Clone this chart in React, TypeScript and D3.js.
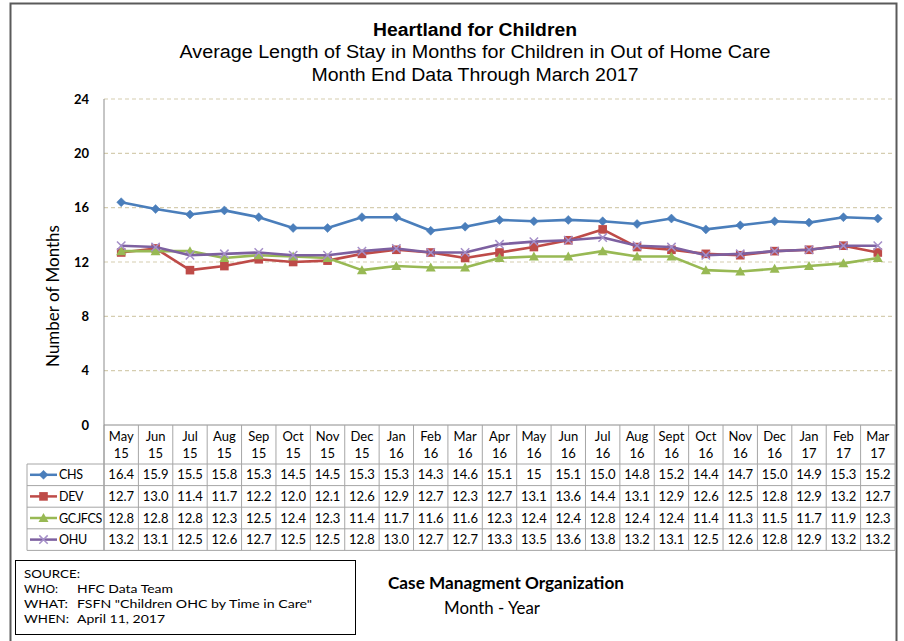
import React from "react";
import * as d3 from "d3";

const months = ["May", "Jun", "Jul", "Aug", "Sep", "Oct", "Nov", "Dec", "Jan", "Feb", "Mar", "Apr", "May", "Jun", "Jul", "Aug", "Sept", "Oct", "Nov", "Dec", "Jan", "Feb", "Mar"];
const years = ["15", "15", "15", "15", "15", "15", "15", "15", "16", "16", "16", "16", "16", "16", "16", "16", "16", "16", "16", "16", "17", "17", "17"];

const chs = ["16.4", "15.9", "15.5", "15.8", "15.3", "14.5", "14.5", "15.3", "15.3", "14.3", "14.6", "15.1", "15", "15.1", "15.0", "14.8", "15.2", "14.4", "14.7", "15.0", "14.9", "15.3", "15.2"];
const dev = ["12.7", "13.0", "11.4", "11.7", "12.2", "12.0", "12.1", "12.6", "12.9", "12.7", "12.3", "12.7", "13.1", "13.6", "14.4", "13.1", "12.9", "12.6", "12.5", "12.8", "12.9", "13.2", "12.7"];
const gcjfcs = ["12.8", "12.8", "12.8", "12.3", "12.5", "12.4", "12.3", "11.4", "11.7", "11.6", "11.6", "12.3", "12.4", "12.4", "12.8", "12.4", "12.4", "11.4", "11.3", "11.5", "11.7", "11.9", "12.3"];
const ohu = ["13.2", "13.1", "12.5", "12.6", "12.7", "12.5", "12.5", "12.8", "13.0", "12.7", "12.7", "13.3", "13.5", "13.6", "13.8", "13.2", "13.1", "12.5", "12.6", "12.8", "12.9", "13.2", "13.2"];

const seriesNames = ["CHS", "DEV", "GCJFCS", "OHU"];
const seriesValues = [chs, dev, gcjfcs, ohu];
const seriesColors = ["#4A7EBB", "#BE4B48", "#98B954", "#7D60A0"];
const seriesMarkers = ["diamond", "square", "triangle", "x"];
const yTicks = [0, 4, 8, 12, 16, 20, 24];

const sourceLabels = ["SOURCE:", "WHO:", "WHAT:", "WHEN:"];
const sourceValues = ["", "HFC Data Team", "FSFN \"Children OHC by Time in Care\"", "April 11, 2017"];

const W = 904;
const H = 641;
const plotLeft = 104;
const plotRight = 895;
const plotTop = 99;
const plotBottom = 425;
const rowH = 21.6;
const headerBottom = 464;
const legendLeft = 27;

const tableFont = "Lato, 'Open Sans', sans-serif";
const narrowFont = "'Liberation Sans Narrow', 'Arial Narrow', 'Liberation Sans', Arial, sans-serif";

function Marker({ type, x, y, color }: { type: string; x: number; y: number; color: string }) {
  if (type === "diamond") {
    const s = 4.5;
    return <path d={`M${x},${y - s}L${x + s},${y}L${x},${y + s}L${x - s},${y}Z`} fill={color} stroke={color} strokeWidth={0.5} />;
  }
  if (type === "square") {
    const s = 4.3;
    return <rect x={x - s} y={y - s} width={2 * s} height={2 * s} fill={color} />;
  }
  if (type === "triangle") {
    const s = 5;
    return <path d={`M${x},${y - s}L${x + s},${y + s * 0.8}L${x - s},${y + s * 0.8}Z`} fill={color} />;
  }
  const s = 4.2;
  return (
    <path d={`M${x - s},${y - s}L${x + s},${y + s}M${x - s},${y + s}L${x + s},${y - s}`} stroke="#A58FC8" strokeWidth={1.5} fill="none" />
  );
}

export default function App() {
  const x = d3.scaleBand<number>().domain(d3.range(months.length)).range([plotLeft, plotRight]);
  const y = d3.scaleLinear().domain([0, 24]).range([plotBottom, plotTop]);
  const line = d3
    .line<string>()
    .x((_, i) => (x(i) as number) + x.bandwidth() / 2)
    .y((d) => y(Number(d)));

  const bw = x.bandwidth();
  const tableBottom = headerBottom + rowH * seriesNames.length;
  const labelLens = [56, 34, 44, 45];
  const valueLens = [0, 96, 235, 88];

  return (
    <svg width={W} height={H} style={{ position: "absolute", left: 0, top: 0, background: "#fff" }}>
      <rect x={0} y={0} width={W} height={H} fill="#fff" />
      {/* outer frame */}
      <rect x={10.5} y={3.5} width={886} height={700} fill="none" stroke="#5a5a5a" strokeWidth={2} />

      {/* titles */}
      <text x={475} y={36} textAnchor="middle" fontFamily={narrowFont} fontWeight="bold" fontSize={17.5} textLength={204} lengthAdjust="spacingAndGlyphs">
        Heartland for Children
      </text>
      <text x={475} y={58} textAnchor="middle" fontFamily={narrowFont} fontSize={18} textLength={591} lengthAdjust="spacingAndGlyphs">
        Average Length of Stay in Months for Children in  Out of Home Care
      </text>
      <text x={475} y={81} textAnchor="middle" fontFamily={narrowFont} fontSize={18} textLength={327} lengthAdjust="spacingAndGlyphs">
        Month End Data Through March 2017
      </text>

      {/* gridlines */}
      {yTicks.filter((t) => t > 0).map((t) => (
        <line key={t} x1={plotLeft} x2={plotRight - 3} y1={y(t)} y2={y(t)} stroke="#D5CDB0" strokeWidth={1.2} strokeDasharray="4,3" />
      ))}
      {/* y tick labels */}
      {yTicks.map((t) => (
        <text key={t} x={89} y={y(t) + 4.5} textAnchor="end" fontFamily={tableFont} fontWeight="bold" fontSize={13}>
          {t}
        </text>
      ))}
      {/* y axis title */}
      <text transform={`translate(59,296) rotate(-90)`} textAnchor="middle" fontFamily={tableFont} fontSize={17}>
        Number of Months
      </text>

      {/* axis lines */}
      <line x1={plotLeft} x2={plotLeft} y1={plotTop} y2={tableBottom} stroke="#8c8c8c" strokeWidth={1} />
      <line x1={plotLeft} x2={plotRight} y1={plotBottom} y2={plotBottom} stroke="#8c8c8c" strokeWidth={1} />

      {/* data table grid */}
      {d3.range(months.length + 1).map((i) => {
        const xx = i === months.length ? plotRight : (x(i) as number);
        return <line key={i} x1={xx} x2={xx} y1={plotBottom} y2={tableBottom} stroke="#a6a6a6" strokeWidth={1} />;
      })}
      {d3.range(seriesNames.length + 1).map((r) => {
        const yy = headerBottom + r * rowH;
        return <line key={r} x1={legendLeft} x2={plotRight} y1={yy} y2={yy} stroke="#a6a6a6" strokeWidth={1} />;
      })}
      <line x1={legendLeft} x2={legendLeft} y1={headerBottom} y2={tableBottom} stroke="#a6a6a6" strokeWidth={1} />

      {/* header labels */}
      {months.map((m, i) => {
        const cx = (x(i) as number) + bw / 2;
        return (
          <g key={i} fontFamily={tableFont} fontSize={13} textAnchor="middle" fill="#000">
            <text x={cx} y={441}>{m}</text>
            <text x={cx} y={458}>{years[i]}</text>
          </g>
        );
      })}

      {/* rows */}
      {seriesNames.map((name, r) => {
        const cy = headerBottom + r * rowH + rowH / 2;
        return (
          <g key={name}>
            <line x1={30} x2={57} y1={cy} y2={cy} stroke={seriesColors[r]} strokeWidth={2.5} />
            <Marker type={seriesMarkers[r]} x={43.5} y={cy} color={seriesColors[r]} />
            <text x={59} y={cy + 4.5} fontFamily={tableFont} fontSize={12.5} letterSpacing={-0.3}>{name}</text>
            {seriesValues[r].map((v, i) => (
              <text key={i} x={(x(i) as number) + bw / 2} y={cy + 4.5} textAnchor="middle" fontFamily={tableFont} fontSize={13}>
                {v}
              </text>
            ))}
          </g>
        );
      })}

      {/* series lines */}
      {seriesValues.map((vals, r) => (
        <g key={r}>
          <path d={line(vals) || ""} fill="none" stroke={seriesColors[r]} strokeWidth={2.6} strokeLinejoin="round" />
          {vals.map((v, i) => (
            <Marker key={i} type={seriesMarkers[r]} x={(x(i) as number) + bw / 2} y={y(Number(v))} color={seriesColors[r]} />
          ))}
        </g>
      ))}

      {/* source box */}
      <rect x={15.5} y={560.5} width={340} height={74} fill="none" stroke="#000" strokeWidth={1} />
      <g fontFamily={tableFont} fontSize={12} fill="#000">
        {sourceLabels.map((lab, i) => (
          <g key={lab}>
            <text x={24} y={578 + i * 15} textLength={labelLens[i]} lengthAdjust="spacingAndGlyphs">{lab}</text>
            {sourceValues[i] && (
              <text x={77} y={578 + i * 15} textLength={valueLens[i]} lengthAdjust="spacingAndGlyphs">{sourceValues[i]}</text>
            )}
          </g>
        ))}
      </g>

      <text x={388} y={589} fontFamily={tableFont} fontWeight="bold" fontSize={17} textLength={236} lengthAdjust="spacingAndGlyphs">Case Managment Organization</text>
      <text x={444} y={614} fontFamily={tableFont} fontSize={16.5} textLength={96} lengthAdjust="spacingAndGlyphs">Month - Year</text>
    </svg>
  );
}
